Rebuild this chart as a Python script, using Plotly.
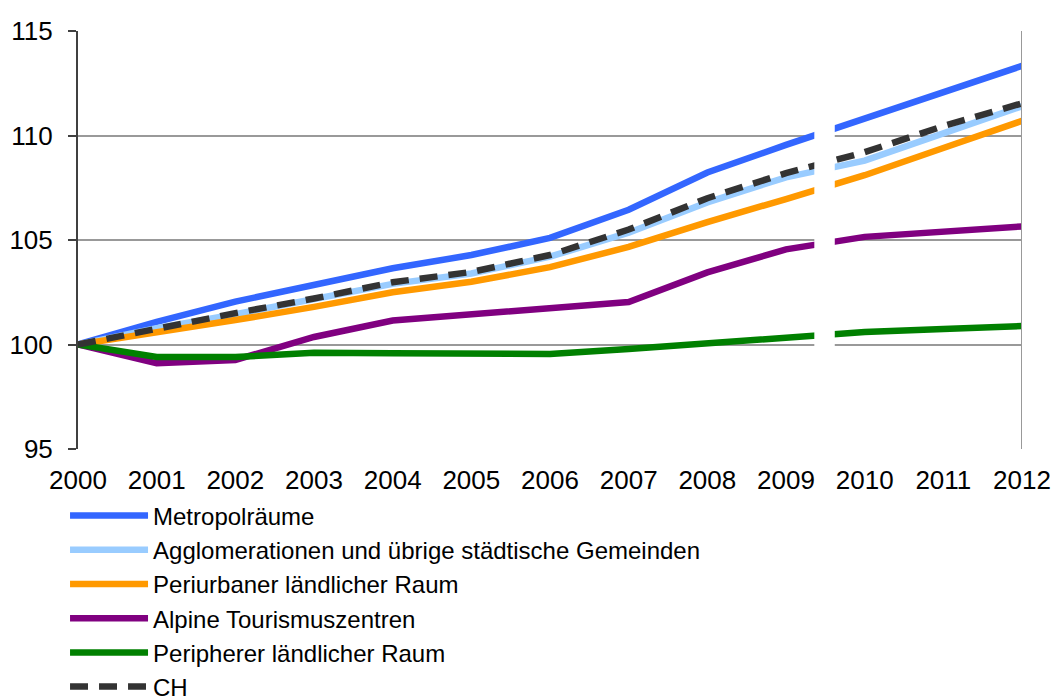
import plotly.graph_objects as go

years = list(range(2000, 2013))
metro = [100, 101.08, 102.05, 102.85, 103.65, 104.28, 105.1, 106.45, 108.23, 109.55, 110.8, 112.05, 113.33]
agglo = [100, 100.78, 101.45, 102.15, 102.9, 103.4, 104.2, 105.35, 106.8, 108.0, 108.8, 110.1, 111.4]
periurb = [100, 100.55, 101.17, 101.8, 102.5, 103.0, 103.7, 104.67, 105.86, 106.96, 108.1, 109.4, 110.7]
alpine = [100, 99.1, 99.26, 100.36, 101.15, 101.45, 101.8, 102.03, 103.45, 104.55, 105.15, 105.4, 105.65]
periph = [100, 99.4, 99.4, 99.6, 99.58, 99.57, 99.55, 99.78, 100.07, 100.37, 100.6, 100.74, 100.88]
ch = [100, 100.78, 101.5, 102.2, 102.98, 103.47, 104.28, 105.5, 107.0, 108.2, 109.2, 110.45, 111.54]

names = ["Metropolräume", "Agglomerationen und übrige städtische Gemeinden",
         "Periurbaner ländlicher Raum", "Alpine Tourismuszentren",
         "Peripherer ländlicher Raum", "CH"]
series = [metro, agglo, periurb, alpine, periph, ch]
colors = ["#3366FF", "#99CCFF", "#FF9900", "#800080", "#008000", "#333333"]
dashes = ["solid", "solid", "solid", "solid", "solid", "18px,11px"]

fig = go.Figure()
for n, s, c, d in zip(names, series, colors, dashes):
    fig.add_trace(go.Scatter(x=years, y=s, name=n, mode="lines",
                             line=dict(color=c, width=6.5, dash=d)))

font = "Liberation Sans, Arial, sans-serif"
fig.update_layout(
    width=1054, height=700,
    margin=dict(l=78, r=32, t=31, b=251, autoexpand=False),
    plot_bgcolor="white", paper_bgcolor="white",
    font=dict(family=font, size=24, color="black"),
    showlegend=True,
    legend=dict(orientation="v", xref="container", yref="container",
                x=0.0617, y=0.295, xanchor="left", yanchor="top",
                font=dict(family=font, size=24), tracegroupgap=0,
                itemwidth=78, bgcolor="rgba(0,0,0,0)"),
    xaxis=dict(range=[2000, 2012], tickmode="array", tickvals=years,
               ticktext=[str(y) for y in years], showgrid=False, zeroline=False,
               showline=False, ticks="", ticklabelstandoff=13, automargin=False,
               tickfont=dict(size=26)),
    yaxis=dict(range=[95, 115], tickvals=[95, 100, 105, 110, 115],
               showgrid=True, gridcolor="#999999", gridwidth=2, zeroline=False,
               showline=True, linecolor="#404040", linewidth=2, automargin=False,
               ticks="outside", ticklen=8, tickcolor="#404040", tickwidth=2,
               ticklabelstandoff=10, tickfont=dict(size=26)),
    shapes=[
        dict(type="rect", xref="x", yref="y", x0=2009.36, x1=2009.62, y0=99.8, y1=111.5,
             fillcolor="white", line=dict(width=0), layer="above"),
        dict(type="line", xref="x", yref="paper", x0=2012, x1=2012, y0=0, y1=1,
             line=dict(color="#999999", width=2), layer="above"),
    ],
)

fig.write_html("out.html", config={"displayModeBar": False},
               post_script="document.body.style.margin='0';document.body.style.overflow='hidden';")
